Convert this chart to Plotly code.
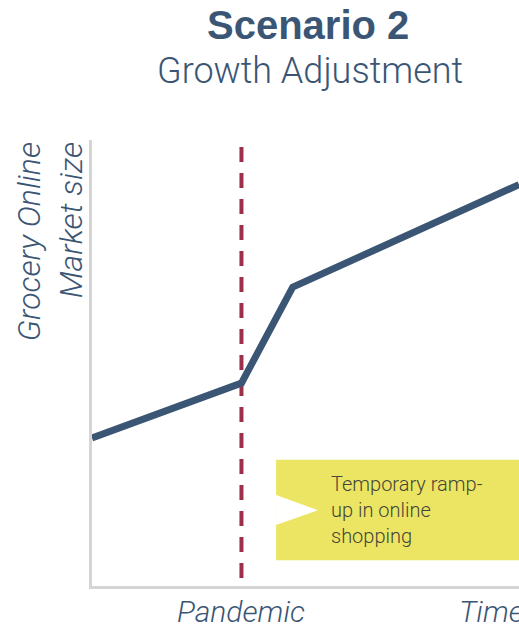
import plotly.graph_objects as go

# Market size path (arbitrary index units on a 0-100 time scale)
time_pts = [0, 35, 47, 100]
market_size = [33.2, 45.5, 67.0, 90.0]

pandemic_x = 35
pandemic_span = [1.8, 100]

title_text = "Scenario 2"
subtitle_text = "Growth Adjustment"
y_label = "Grocery Online<br>Market size"
x_labels = ["Pandemic", "Time"]
note_text = "Temporary ramp-<br>up in online<br>shopping"

NAVY = "#3b5674"
RED = "#9c2f4a"
YELLOW = "#ece563"
AXIS_GRAY = "#d5d5d5"
BOLD_FONT = "Liberation Sans"
LIGHT_FONT = "Roboto"

fig = go.Figure()

# Callout box with a white pointer on its left edge
fig.add_shape(type="rect", xref="x", yref="y", x0=43.1, x1=110, y0=5.8, y1=28.3,
              fillcolor=YELLOW, line=dict(width=0), layer="below")
fig.add_shape(type="path", xref="x", yref="y",
              path="M 43.1 13.7 L 52.9 17.0 L 43.1 20.4 Z",
              fillcolor="white", line=dict(width=0), layer="below")

# Pandemic marker
fig.add_trace(go.Scatter(x=[pandemic_x, pandemic_x], y=pandemic_span, mode="lines",
                         line=dict(color=RED, width=4, dash="15px,11px"),
                         hoverinfo="skip", showlegend=False))

# Market size line
fig.add_trace(go.Scatter(x=time_pts, y=market_size, mode="lines",
                         line=dict(color=NAVY, width=7),
                         hoverinfo="skip", showlegend=False))

axis_label_font = dict(family=LIGHT_FONT, size=30, color=NAVY, style="italic", weight=300)

annotations = [
    dict(text="<b>" + title_text + "</b>", x=0.505, y=1.258, xref="paper", yref="paper",
         showarrow=False, xanchor="center", yanchor="middle",
         font=dict(family=BOLD_FONT, size=40, color=NAVY)),
    dict(text=subtitle_text, x=0.51, y=1.155, xref="paper", yref="paper",
         showarrow=False, xanchor="center", yanchor="middle",
         font=dict(family=LIGHT_FONT, size=36, color=NAVY, weight=300)),
    dict(text=y_label, x=-0.099, y=1.0, xref="paper", yref="paper",
         showarrow=False, xanchor="center", yanchor="top", textangle=-90, align="right",
         font=dict(family=LIGHT_FONT, size=32, color=NAVY, style="italic", weight=300)),
    dict(text=x_labels[0], x=pandemic_x, y=-0.057, xref="x", yref="paper",
         showarrow=False, xanchor="center", yanchor="middle",
         font=axis_label_font),
    dict(text=x_labels[1], x=0.855, y=-0.057, xref="paper", yref="paper",
         showarrow=False, xanchor="left", yanchor="middle",
         font=axis_label_font),
    dict(text=note_text, x=55.6, y=17.0, xref="x", yref="y",
         showarrow=False, xanchor="left", yanchor="middle", align="left",
         font=dict(family=LIGHT_FONT, size=20, color="#45453a", weight=300)),
]

fig.update_layout(
    width=519, height=631,
    margin=dict(l=92, r=0, t=140, b=45),
    plot_bgcolor="white", paper_bgcolor="white",
    annotations=annotations,
    xaxis=dict(range=[0, 100], showgrid=False, zeroline=False, showticklabels=False,
               ticks="", showline=True, linecolor=AXIS_GRAY, linewidth=3, fixedrange=True),
    yaxis=dict(range=[0, 100], showgrid=False, zeroline=False, showticklabels=False,
               ticks="", showline=True, linecolor=AXIS_GRAY, linewidth=3, fixedrange=True),
)

fig.write_html("out.html", config={"displayModeBar": False})
